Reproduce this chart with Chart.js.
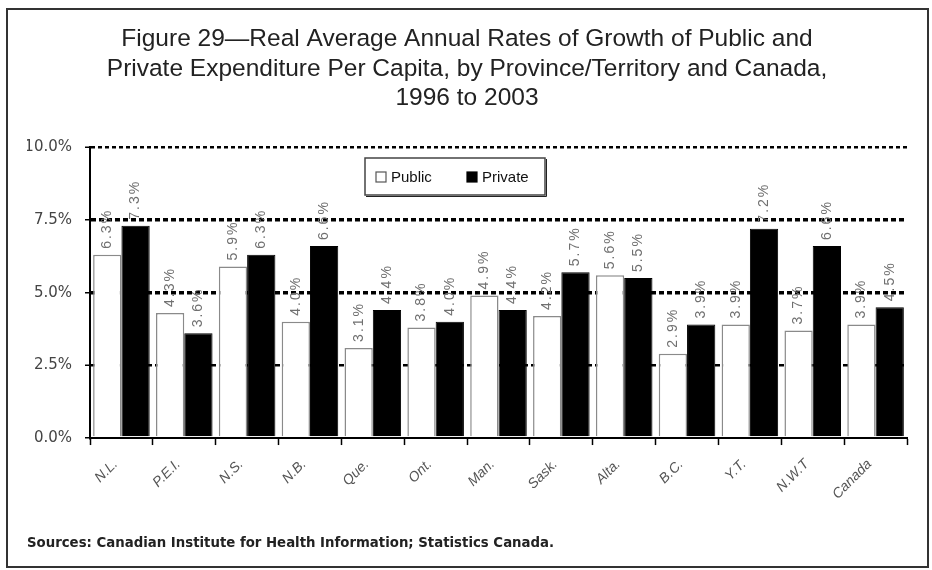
<!DOCTYPE html>
<html>
<head>
<meta charset="utf-8">
<script src="https://cdn.jsdelivr.net/npm/chart.js@4.4.1/dist/chart.umd.min.js"></script>
<style>
  html, body { margin: 0; padding: 0; background: #ffffff; }
  #wrap { width: 932px; height: 570px; position: relative; }
</style>
</head>
<body>
<div id="wrap"><canvas id="c" width="932" height="570"></canvas></div>
<script>
// ---- data ----
const categories = ["N.L.", "P.E.I.", "N.S.", "N.B.", "Que.", "Ont.", "Man.", "Sask.", "Alta.", "B.C.", "Y.T.", "N.W.T", "Canada"];
const publicValues  = [6.3, 4.3, 5.9, 4.0, 3.1, 3.8, 4.9, 4.2, 5.6, 2.9, 3.9, 3.7, 3.9];
const privateValues = [7.3, 3.6, 6.3, 6.6, 4.4, 4.0, 4.4, 5.7, 5.5, 3.9, 7.2, 6.6, 4.5];
const seriesNames = ["Public", "Private"];
const yTickValues = [0, 2.5, 5, 7.5, 10];
const titleLines = [
  "Figure 29\u2014Real Average Annual Rates of Growth of Public and",
  "Private Expenditure Per Capita, by Province/Territory and Canada,",
  "1996 to 2003"
];
const sourceNote = "Sources: Canadian Institute for Health Information; Statistics Canada.";

// ---- plugins ----
const framePlugin = {
  id: 'frame',
  beforeDraw(chart) {
    const ctx = chart.ctx;
    ctx.save();
    ctx.fillStyle = '#ffffff';
    ctx.fillRect(0, 0, chart.width, chart.height);
    ctx.strokeStyle = '#333333';
    ctx.lineWidth = 2;
    ctx.strokeRect(7, 9, 921, 558);
    ctx.restore();
  }
};

const valueLabelPlugin = {
  id: 'valueLabels',
  afterDatasetsDraw(chart) {
    const ctx = chart.ctx;
    ctx.save();
    ctx.font = '14px "Liberation Sans", Arial, sans-serif';
    ctx.fillStyle = '#707070';
    ctx.textAlign = 'left';
    ctx.textBaseline = 'middle';
    try { ctx.letterSpacing = '2px'; } catch (e) {}
    chart.data.datasets.forEach((ds, di) => {
      const meta = chart.getDatasetMeta(di);
      meta.data.forEach((bar, i) => {
        const v = ds.data[i];
        ctx.save();
        ctx.translate(bar.x, bar.y - 6);
        ctx.rotate(-Math.PI / 2);
        ctx.fillText(v.toFixed(1) + '%', 0, 0);
        ctx.restore();
      });
    });
    ctx.restore();
  }
};

const boxLegendPlugin = {
  id: 'boxLegend',
  afterDraw(chart) {
    const ctx = chart.ctx;
    const ds = chart.data.datasets;
    ctx.save();
    ctx.fillStyle = '#ffffff';
    ctx.fillRect(365, 158, 180, 37);
    ctx.strokeStyle = '#444444';
    ctx.lineWidth = 1.5;
    ctx.strokeRect(365, 158, 180, 37);
    ctx.strokeStyle = '#222222';
    ctx.lineWidth = 1;
    ctx.beginPath();
    ctx.moveTo(366, 196.5); ctx.lineTo(546.5, 196.5); ctx.lineTo(546.5, 159);
    ctx.stroke();
    ctx.font = '15px "Liberation Sans", Arial, sans-serif';
    ctx.textBaseline = 'middle';
    const items = [{x: 376, tx: 391}, {x: 467, tx: 482}];
    items.forEach((it, k) => {
      const d = ds[k];
      ctx.fillStyle = d.backgroundColor;
      ctx.fillRect(it.x, 172, 10, 10);
      ctx.strokeStyle = k === 0 ? '#555555' : '#000000';
      ctx.lineWidth = 1.2;
      ctx.strokeRect(it.x, 172, 10, 10);
      ctx.fillStyle = '#111111';
      ctx.fillText(d.label, it.tx, 177.5);
    });
    ctx.restore();
  }
};

// ---- chart ----
const ctx = document.getElementById('c').getContext('2d');
new Chart(ctx, {
  type: 'bar',
  data: {
    labels: categories,
    datasets: [
      {
        label: seriesNames[0],
        data: publicValues,
        backgroundColor: '#ffffff',
        borderColor: '#8a8a8a',
        borderWidth: 1.5,
        barPercentage: 1.0,
        categoryPercentage: 0.9
      },
      {
        label: seriesNames[1],
        data: privateValues,
        backgroundColor: '#000000',
        borderColor: '#000000',
        borderWidth: 1,
        barPercentage: 1.0,
        categoryPercentage: 0.9
      }
    ]
  },
  options: {
    responsive: false,
    animation: false,
    devicePixelRatio: 1,
    layout: { padding: { left: 27, right: 25, top: 15, bottom: 10 } },
    plugins: {
      legend: { display: false },
      tooltip: { enabled: false },
      title: {
        display: true,
        text: titleLines,
        color: '#222222',
        font: { family: '"Liberation Sans", Arial, sans-serif', size: 24.5, weight: 'normal', lineHeight: 1.2 },
        padding: { top: 10, bottom: 34 }
      },
      subtitle: {
        display: true,
        position: 'bottom',
        align: 'start',
        text: sourceNote,
        color: '#222222',
        font: { family: '"DejaVu Sans", sans-serif', size: 13.3, weight: 'bold', lineHeight: 1.2 },
        padding: { top: 0, bottom: 8 }
      }
    },
    scales: {
      x: {
        grid: {
          display: true,
          drawOnChartArea: false,
          drawTicks: true,
          tickLength: 7,
          tickColor: '#000000',
          tickWidth: 1.5,
          offset: true
        },
        border: { display: true, color: '#000000', width: 2 },
        ticks: {
          autoSkip: false,
          maxRotation: 45,
          minRotation: 45,
          padding: 11,
          labelOffset: -6,
          color: '#555555',
          font: { family: '"Liberation Sans", Arial, sans-serif', size: 14, style: 'italic' }
        },
        afterFit(scale) { scale.height = 98; }
      },
      y: {
        min: 0,
        max: 10,
        afterBuildTicks(scale) { scale.ticks = yTickValues.map(v => ({ value: v })); },
        grid: {
          display: true,
          drawOnChartArea: true,
          drawTicks: true,
          tickLength: 5,
          tickColor: '#000000',
          tickWidth: 1.5,
          color: (c) => (c.tick && c.tick.value > 0) ? '#000000' : 'rgba(0,0,0,0)',
          lineWidth: (c) => {
            if (!c.tick) return 0;
            if (c.tick.value === 10) return 2.5;
            if (c.tick.value === 2.5) return 2.5;
            return 3.5;
          }
        },
        border: {
          display: true,
          color: '#000000',
          width: 2,
          dash: (c) => (c.tick && c.tick.value === 10) ? [4, 3] : [5, 3]
        },
        ticks: {
          padding: 13,
          color: '#444444',
          font: { family: '"DejaVu Sans", sans-serif', size: 15 },
          callback: (v) => Number(v).toFixed(1) + '%'
        },
        afterFit(scale) { scale.width = 63; }
      }
    }
  },
  plugins: [framePlugin, valueLabelPlugin, boxLegendPlugin]
});
</script>
</body>
</html>
